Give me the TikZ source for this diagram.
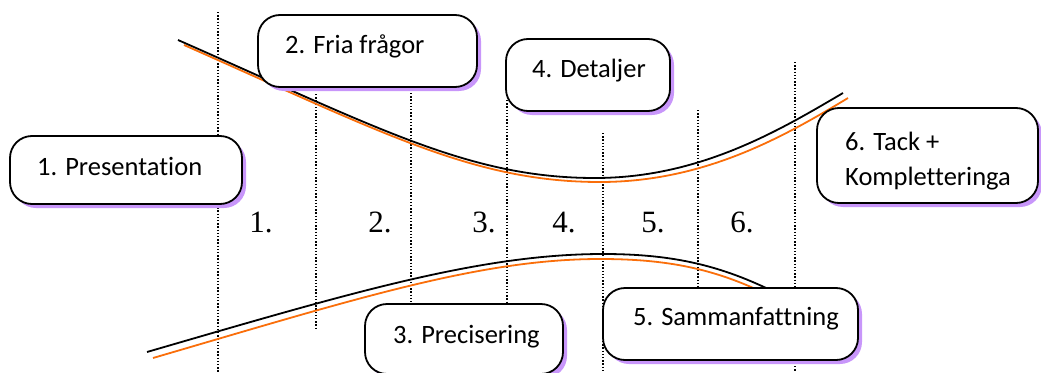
\documentclass[tikz,border=0pt]{standalone}
\usepackage{fontspec}
\newfontfamily\boxfont[Ligatures=NoCommon]{Carlito}
\newfontfamily\numfont{Liberation Serif}
\usetikzlibrary{shadows}
\definecolor{shadowlilac}{RGB}{200,150,250}
\definecolor{curveorange}{RGB}{250,110,10}
\tikzset{
  pbox/.style={draw=black, line width=1.8pt, fill=white, rounded corners=22pt,
    inner sep=0pt,
    drop shadow={shadow xshift=4pt, shadow yshift=-4pt, fill=shadowlilac, opacity=1}},
  ptext/.style={anchor=base west, inner sep=0pt, align=left,
    font=\boxfont\fontsize{26.5}{35}\selectfont},
  pnum/.style={anchor=base, inner sep=0pt, font=\numfont\fontsize{31}{36}\selectfont},
  divider/.style={line width=1.3pt, dash pattern=on 1.3pt off 1.9pt},
  blackcurve/.style={line width=1.8pt, draw=black},
  orangecurve/.style={line width=1.8pt, draw=curveorange},
}
\begin{document}
\begin{tikzpicture}[x=1pt,y=-1pt]
\useasboundingbox (0,0) rectangle (1041,372);

% vertical dotted phase dividers
\coordinate (d1t) at (218,12);  \coordinate (d1b) at (218,372);
\coordinate (d2t) at (316,94);  \coordinate (d2b) at (316,329);
\coordinate (d3t) at (411,93);  \coordinate (d3b) at (411,320);
\coordinate (d4t) at (507,100); \coordinate (d4b) at (507,320);
\coordinate (d5t) at (603,133); \coordinate (d5b) at (603,372);
\coordinate (d6t) at (698,110); \coordinate (d6b) at (698,300);
\coordinate (d7t) at (795,62);  \coordinate (d7b) at (795,372);
\foreach \i in {1,...,7} \draw[divider] (d\i t) -- (d\i b);

% upper funnel curve
\draw[orangecurve] (184,45) .. controls (385,134) and (475,182) .. (600,182)
  .. controls (705,182) and (785,136) .. (848,98);
\draw[blackcurve] (178,40) .. controls (380,129) and (470,178) .. (595,178)
  .. controls (700,178) and (780,130) .. (843,93);

% lower funnel curve
\draw[orangecurve] (153,358) .. controls (355,299) and (480,259) .. (600,259)
  .. controls (672,259) and (722,270) .. (782,302);
\draw[blackcurve] (147,352) .. controls (350,293) and (480,254) .. (603,254)
  .. controls (680,254) and (730,268) .. (790,300);

% interview step boxes
\node[pbox, minimum width=232pt, minimum height=68pt] (b1) at (126,170) {};
\node[pbox, minimum width=219pt, minimum height=72pt] (b2) at (367.5,51) {};
\node[pbox, minimum width=198pt, minimum height=70pt] (b3) at (464,339) {};
\node[pbox, minimum width=164pt, minimum height=72pt] (b4) at (588,75) {};
\node[pbox, minimum width=255pt, minimum height=72pt] (b5) at (730.5,324) {};
\node[pbox, minimum width=221pt, minimum height=95pt] (b6) at (927.5,155.5) {};

\node[ptext] (t1) at (37,175) {1. Presentation};
\node[ptext] (t2) at (285,53) {2. Fria frågor};
\node[ptext] (t3) at (393,343) {3. Precisering};
\node[ptext] (t4) at (532,77) {4. Detaljer};
\node[ptext] (t5) at (633,325) {5. Sammanfattning};
\node[ptext] (t6) at (845,185) {6. Tack +\\Kompletteringa};

% phase numbers
\node[pnum] (n1) at (261,232) {1.};
\node[pnum] (n2) at (380,232) {2.};
\node[pnum] (n3) at (484,232) {3.};
\node[pnum] (n4) at (564,232) {4.};
\node[pnum] (n5) at (653,232) {5.};
\node[pnum] (n6) at (742,232) {6.};
\end{tikzpicture}
\end{document}
